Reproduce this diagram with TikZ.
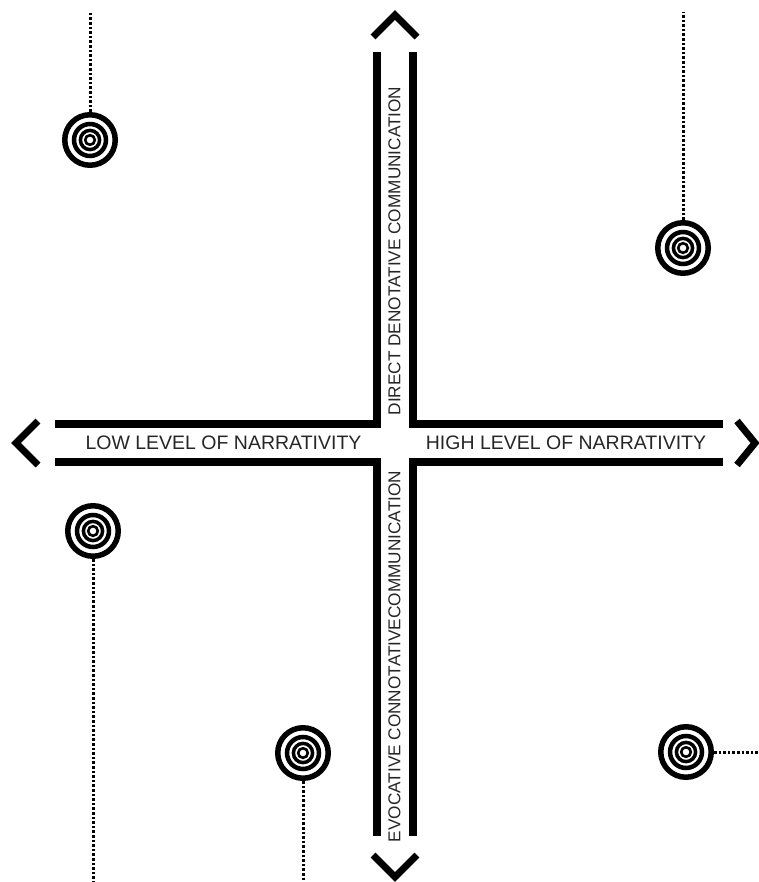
\documentclass[tikz,border=0pt]{standalone}
\usepackage{fontspec}
\setmainfont{Liberation Sans}
\usetikzlibrary{positioning}
\tikzset{
  target/.style={circle, draw, line width=5.5pt, minimum size=50.5pt, inner sep=0pt,
    path picture={
      \draw[line width=4.5pt] (path picture bounding box.center) circle (16pt);
      \draw[line width=3.5pt] (path picture bounding box.center) circle (9.6pt);
      \draw[line width=2.6pt] (path picture bounding box.center) circle (4.8pt);
    }},
  bar/.style={line width=7.5pt, line join=miter},
  chevron/.style={line width=7pt, line join=miter},
  dotline/.style={line width=3pt, dash pattern=on 2.6pt off 2pt},
  hlabel/.style={inner sep=0pt, text=black!85, font=\fontsize{19.5}{20}\selectfont},
  vlabel/.style={inner sep=0pt, rotate=90, text=black!85, font=\fontsize{17.2}{18}\selectfont}
}

\begin{document}
\begin{tikzpicture}[x=1pt, y=-1pt]
    \useasboundingbox (0,0) rectangle (758,882);

    % axis bars
    \draw[bar] (377,52) -- (377,424) -- (55,424);
    \draw[bar] (413,52) -- (413,424) -- (723,424);
    \draw[bar] (55,462) -- (377,462) -- (377,836);
    \draw[bar] (723,462) -- (413,462) -- (413,836);

    % arrow heads
    \draw[chevron] (373,37) -- (395,15) -- (417,37);
    \draw[chevron] (373,855) -- (395,877) -- (417,855);
    \draw[chevron] (38,421) -- (16,443) -- (38,465);
    \draw[chevron] (737,421) -- (755,443) -- (737,465);

    % labels
    \node[hlabel] (low) at (223.5,443) {LOW LEVEL OF NARRATIVITY};
    \node[hlabel] (high) at (566,443) {HIGH LEVEL OF NARRATIVITY};
    \node[vlabel] (direct) at (394.5,251) {DIRECT DENOTATIVE COMMUNICATION};
    \node[vlabel] (evoc) at (394.5,656.5) {EVOCATIVE CONNOTATIVECOMMUNICATION};

    % targets
    \node[target] (t1) at (90,140) {};
    \node[target] (t2) at (683,248) {};
    \node[target] (t3) at (93,531) {};
    \node[target] (t4) at (303,753) {};
    \node[target] (t5) at (686,752) {};

    \coordinate (e1) at (90,12);
    \coordinate (e2) at (683,12);
    \coordinate (e3) at (93,882);
    \coordinate (e4) at (303,882);
    \coordinate (e5) at (758,752);

    \draw[dotline] (t1) -- (e1);
    \draw[dotline] (t2) -- (e2);
    \draw[dotline] (t3) -- (e3);
    \draw[dotline] (t4) -- (e4);
    \draw[dotline] (t5) -- (e5);
\end{tikzpicture}
\end{document}
